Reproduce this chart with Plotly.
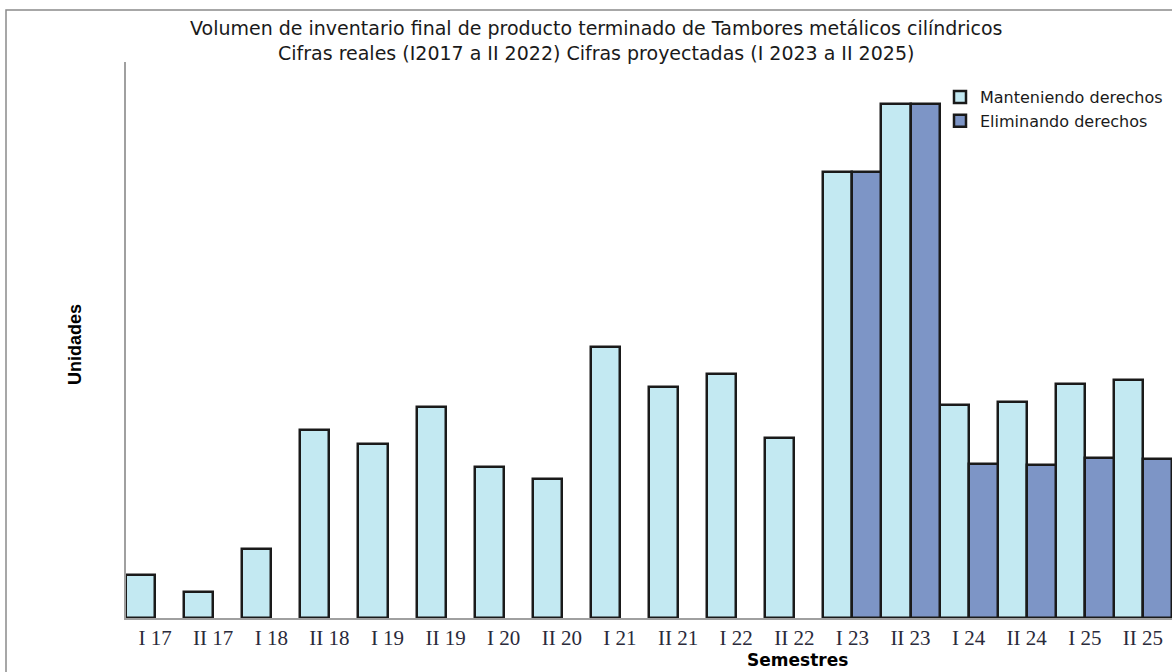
import plotly.graph_objects as go

categorias = ["I 17", "II 17", "I 18", "II 18", "I 19", "II 19", "I 20", "II 20", "I 21",
              "II 21", "I 22", "II 22", "I 23", "II 23", "I 24", "II 24", "I 25", "II 25"]
manteniendo = [43, 26, 69, 188, 174, 211, 151, 139, 271, 231, 244, 180, 446, 514, 213, 216, 234, 238]
eliminando = [None, None, None, None, None, None, None, None, None, None, None, None,
              446, 514, 154, 153, 160, 159]
titulo = ("Volumen de inventario final de producto terminado de Tambores metálicos cilíndricos<br>"
          "Cifras reales (I2017 a II 2022) Cifras proyectadas (I 2023 a II 2025)")

fig = go.Figure()
fig.add_trace(go.Bar(x=categorias, y=manteniendo, name="Manteniendo derechos",
                     marker=dict(color="#c3e9f2", line=dict(color="#1a1a1a", width=2.5))))
fig.add_trace(go.Bar(x=categorias, y=eliminando, name="Eliminando derechos",
                     marker=dict(color="#7d95c6", line=dict(color="#1a1a1a", width=2.5))))

PL, PT, PB = 126, 62, 618
W, H = 1172, 672
pw = W - PL
ph = PB - PT

def px(x):
    return (x - PL) / pw

def py(y):
    return (PB - y) / ph

def ann(text, x, y, size, family="DejaVu Sans", color="#1a1a1a", angle=0):
    return dict(text=text, xref="paper", yref="paper", x=px(x), y=py(y),
                xanchor="center", yanchor="middle", showarrow=False, textangle=angle,
                font=dict(family=family, size=size, color=color))

fig.update_layout(
    width=W, height=H,
    margin=dict(l=PL, r=0, t=PT, b=H - PB, autoexpand=False),
    plot_bgcolor="white", paper_bgcolor="white",
    barmode="group", bargap=0.0, bargroupgap=0.0,
    legend=dict(x=px(940), y=py(80), xanchor="left", yanchor="top",
                font=dict(family="DejaVu Sans", size=16, color="#1a1a1a"),
                bgcolor="rgba(0,0,0,0)", tracegroupgap=0, itemwidth=30),
    showlegend=True,
    font=dict(family="DejaVu Sans"),
    xaxis=dict(showline=True, linecolor="#a0a0a0", linewidth=2, ticks="", showgrid=False,
               tickfont=dict(family="Liberation Serif", size=21, color="#2a2a3a"),
               range=[-0.5, 17.5], automargin=False),
    yaxis=dict(showline=True, linecolor="#a0a0a0", linewidth=2, showticklabels=False,
               ticks="", showgrid=False, zeroline=False, range=[0, 556], automargin=False),
    annotations=[
        ann(titulo, 596, 40, 19),
        ann("<b>Unidades</b>", 75, 345, 18, family="Liberation Sans", color="#000", angle=-90),
        ann("<b>Semestres</b>", 797, 660, 17, color="#000"),
    ],
    shapes=[dict(type="rect", xref="paper", yref="paper",
                 x0=px(6), x1=px(1200), y0=py(700), y1=py(10),
                 line=dict(color="#8a8a8a", width=1.5), layer="below")],
)

fig.write_html("out.html", config={"displayModeBar": False},
               post_script="document.body.style.margin='0';")
